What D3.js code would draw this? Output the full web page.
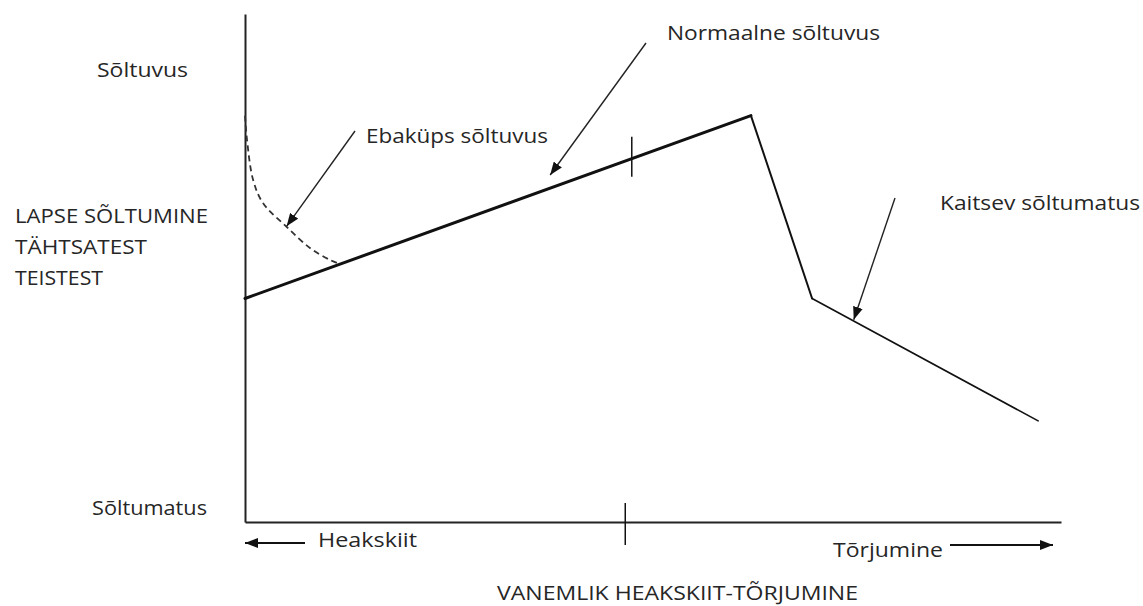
<!DOCTYPE html>
<html><head><meta charset="utf-8">
<script src="https://cdn.jsdelivr.net/npm/d3@7/dist/d3.min.js"></script>
<style>
html,body{margin:0;padding:0;background:#fff;}
svg{display:block;}
text{font-family:"Open Sans",sans-serif;fill:#262626;}
</style></head><body>
<svg id="chart" width="1143" height="606"></svg>
<script>
// ---- data (abstract units: x 0..100 acceptance -> rejection, y 0..100 independence -> dependence)
const mainX = [0, 62, 69.5, 97.2];
const mainY = [44, 80, 44, 19.9];
const dashX = [0, 0.25, 1, 2.2, 5.1, 8, 10.4, 11.6];
const dashY = [80, 75.2, 67.3, 62.8, 58.1, 53.9, 51.6, 50.8];
const tickXs = [47.4, 46.6];
const yAxisLabels = ["Sõltuvus", "Sõltumatus"];
const yTitleLines = ["LAPSE SÕLTUMINE", "TÄHTSATEST", "TEISTEST"];
const xEndLabels = ["Heakskiit", "Tõrjumine"];
const xTitle = "VANEMLIK HEAKSKIIT-TÕRJUMINE";
const annoLabels = ["Ebaküps sõltuvus", "Normaalne sõltuvus", "Kaitsev sõltumatus"];
const annoTargetX = [5.1, 37.4, 74.6];
const annoTargetY = [58.2, 68.3, 39.8];

// ---- layout
const svg = d3.select("#chart");
const L = 245, R = 1061, T = 14, B = 522;
const x = d3.scaleLinear().domain([0, 100]).range([L, R]);
const y = d3.scaleLinear().domain([0, 100]).range([B, T]);
const FS = 19.5;

function label(tx, ty, str, w){
  return svg.append("text").attr("x",tx).attr("y",ty).attr("font-size",FS)
    .attr("textLength",w).attr("lengthAdjust","spacingAndGlyphs").text(str);
}

const defs = svg.append("defs");
defs.append("marker").attr("id","ah").attr("viewBox","0 0 13 10")
  .attr("refX",13).attr("refY",5).attr("markerWidth",13).attr("markerHeight",10)
  .attr("markerUnits","userSpaceOnUse").attr("orient","auto")
  .append("path").attr("d","M0,0 L13,5 L0,10 Z").attr("fill","#111");

// axes
const xAxis = d3.axisBottom(x).ticks(0).tickSizeOuter(0);
const yAxis = d3.axisLeft(y).ticks(0).tickSizeOuter(0);
svg.append("g").attr("transform",`translate(0,${B})`).call(xAxis)
  .select(".domain").attr("stroke","#222").attr("stroke-width",2);
svg.append("g").attr("transform",`translate(${L},0)`).call(yAxis)
  .select(".domain").attr("stroke","#222").attr("stroke-width",2);

// main line (segments with different weights)
const pts = mainX.map((v,i)=>[v, mainY[i]]);
const widths = [3, 2, 1.6];
for (let i=0;i<pts.length-1;i++){
  svg.append("line")
    .attr("x1",x(pts[i][0])).attr("y1",y(pts[i][1]))
    .attr("x2",x(pts[i+1][0])).attr("y2",y(pts[i+1][1]))
    .attr("stroke","#111").attr("stroke-width",widths[i]).attr("stroke-linecap","round");
}

// dashed curve
const dpts = dashX.map((v,i)=>[v, dashY[i]]);
svg.append("path").datum(dpts)
  .attr("d", d3.line().x(d=>x(d[0])).y(d=>y(d[1])).curve(d3.curveCatmullRom))
  .attr("fill","none").attr("stroke","#333").attr("stroke-width",1.8).attr("stroke-dasharray","6,4");

// ticks
const lineYAt = xv => mainY[0] + (mainY[1]-mainY[0])*(xv-mainX[0])/(mainX[1]-mainX[0]);
svg.append("line").attr("x1",x(tickXs[0])).attr("x2",x(tickXs[0]))
  .attr("y1",y(lineYAt(tickXs[0]))-22).attr("y2",y(lineYAt(tickXs[0]))+18)
  .attr("stroke","#111").attr("stroke-width",1.5);
svg.append("line").attr("x1",x(tickXs[1])).attr("x2",x(tickXs[1]))
  .attr("y1",B-19).attr("y2",B+23)
  .attr("stroke","#111").attr("stroke-width",1.5);

// annotations
const annoText = [[366,143],[667,40],[940,210]];
const annoW = [182, 213, 200];
const annoFrom = [[355,131],[646,43],[895,198]];
annoLabels.forEach((lab,i)=>{
  label(annoText[i][0], annoText[i][1], lab, annoW[i]);
  svg.append("line").attr("x1",annoFrom[i][0]).attr("y1",annoFrom[i][1])
    .attr("x2",x(annoTargetX[i])).attr("y2",y(annoTargetY[i]))
    .attr("stroke","#222").attr("stroke-width",1.4).attr("marker-end","url(#ah)");
});

// y labels
label(97, 77, yAxisLabels[0], 91);
label(92, 515, yAxisLabels[1], 115);
const titleW = [193, 132, 88];
yTitleLines.forEach((t,i)=> label(15, 223+i*31, t, titleW[i]));

// x end labels with arrows
label(318, 547, xEndLabels[0], 99);
svg.append("line").attr("x1",305).attr("y1",543).attr("x2",L).attr("y2",543)
  .attr("stroke","#111").attr("stroke-width",2).attr("marker-end","url(#ah)");
label(833, 557, xEndLabels[1], 110);
svg.append("line").attr("x1",950).attr("y1",545).attr("x2",1053).attr("y2",545)
  .attr("stroke","#111").attr("stroke-width",2).attr("marker-end","url(#ah)");

label(497, 600, xTitle, 361);
</script>
</body></html>
